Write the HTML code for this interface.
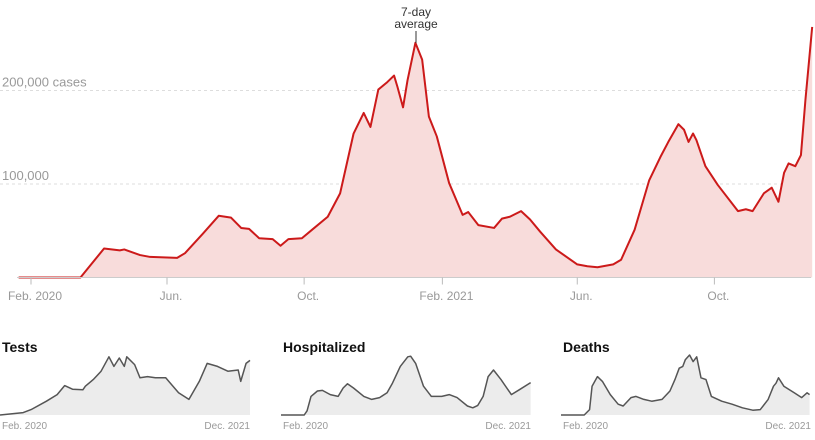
<!DOCTYPE html>
<html><head><meta charset="utf-8"><style>
html,body{margin:0;padding:0;background:#fff;}
body{width:815px;height:435px;overflow:hidden;font-family:"Liberation Sans",sans-serif;}
svg text{font-family:"Liberation Sans",sans-serif;}
</style></head><body>
<svg id="chart" width="815" height="435" viewBox="0 0 815 435" xmlns="http://www.w3.org/2000/svg"></svg>
<script>
// Main series: days since 2020-02-01, cases in thousands (7-day avg)
const caseDays = [-11,44,65,79,83,97,106,130,137,153,167,178,187,194,203,215,222,229,241,250,264,275,287,296,302,309,317,323,326,331,335,342,348,354,361,372,384,389,398,412,419,426,436,444,453,467,486,495,504,518,525,537,550,560,567,576,581,585,589,592,600,611,629,636,642,652,659,665,670,674,680,685,689,695];
const caseValues = [0,0,31,29,30,24,22,21,26,47,66,64,53,52,42,41,34,41,42,51,65,90,154,176,161,201,209,216,204,182,211,251,233,172,151,101,67,70,56,53,63,65,71,62,49,30,14,12,11,14,19,51,104,129,145,164,158,145,154,147,119,99,71,73,71,90,96,81,112,122,119,131,190,268];
const yTicks = [100,200];
const yTickLabels = ["100,000","200,000 cases"];
const xTickDays = [0,121,243,366,486,608];
const xTickLabels = ["Feb. 2020","Jun.","Oct.","Feb. 2021","Jun.","Oct."];
// small multiples (days since start, relative 0-100 values)
const testDays = [0,65,87,130,160,181,203,232,239,261,283,305,319,334,348,355,377,392,413,435,464,500,529,558,580,609,638,667,674,689,700];
const testValues = [0,4,9,23,34,49,43,42,48,59,73,97,81,95,81,97,84,62,64,62,62,37,26,56,86,81,73,75,56,86,91];
const hospDays = [0,65,73,84,102,116,138,160,174,186,203,232,254,276,297,312,334,355,363,377,399,421,450,471,493,522,537,551,566,580,595,616,645,667,699];
const hospValues = [0,0,7,31,40,41,34,31,45,52,45,31,26,29,37,53,81,97,98,86,48,31,31,34,29,15,12,16,31,64,75,59,34,42,54];
const deathDays = [0,65,80,87,102,116,138,160,174,196,210,232,254,283,305,319,331,341,348,360,370,380,392,406,421,450,479,508,537,558,580,595,602,609,624,653,674,689,696];
const deathValues = [0,0,9,48,64,56,34,18,15,29,31,26,23,26,40,59,78,81,92,100,89,97,62,59,31,23,18,12,8,9,26,48,53,62,48,37,29,37,34];

const NS="http://www.w3.org/2000/svg";
const svg=document.getElementById('chart');
function mk(tag,attrs,parent){const e=document.createElementNS(NS,tag);for(const k in attrs)e.setAttribute(k,attrs[k]);(parent||svg).appendChild(e);return e;}

// main axes
const x=d=>31+d*1.124;
const y=v=>277.5-v*0.935;
const base=y(0);

yTicks.forEach((t,i)=>{
  const g=mk('line',{x1:0,x2:811,y1:y(t),y2:y(t),stroke:'#ddd','stroke-dasharray':'3,3'});
  
  
  const l=mk('text',{x:2,y:y(t)-4,fill:'#999','font-size':13});
  l.textContent=yTickLabels[i];
  
  
});

let area='M'+x(caseDays[0])+','+base;
let line='';
caseDays.forEach((d,i)=>{area+=' L'+x(d)+','+y(caseValues[i]);line+=(i?' L':'M')+x(d)+','+y(caseValues[i]);});
area+=' L'+x(caseDays[caseDays.length-1])+','+base+' Z';
const a=mk('path',{d:area,fill:'#f8dcdb'});


const ln=mk('path',{d:line,fill:'none',stroke:'#cc1a1a','stroke-width':2,'stroke-linejoin':'round'});



const bl=mk('line',{x1:17,x2:811,y1:base,y2:base,stroke:'#ccc'});


xTickDays.forEach((d,i)=>{
  const t=mk('line',{x1:x(d),x2:x(d),y1:base,y2:base+7,stroke:'#bbb'});
  
  
  const l=mk('text',{x:x(d)+4,y:300,fill:'#999','font-size':12,'text-anchor':'middle'});
  l.textContent=xTickLabels[i];
  
  
});

const ann=mk('g',{});


const t1=mk('text',{x:416,y:16,'font-size':12,fill:'#333','text-anchor':'middle'},ann);t1.textContent='7-day';
const t2=mk('text',{x:416,y:28,'font-size':12,fill:'#333','text-anchor':'middle'},ann);t2.textContent='average';
mk('line',{x1:416,x2:416,y1:31,y2:43,stroke:'#333'},ann);

// small multiples
function small(x0,title,days,vals,name){
  const g=mk('g',{});
  
  
  const w=250,top=355,bot=415;
  const sx=d=>x0+d*w/700, sy=v=>bot-v*(bot-top)/100;
  const tt=mk('text',{x:x0+2,y:352,'font-size':14,'font-weight':'bold',fill:'#111'},g);
  tt.textContent=title;
  let p='M'+sx(days[0])+','+bot,l='';
  days.forEach((d,i)=>{p+=' L'+sx(d)+','+sy(vals[i]);l+=(i?' L':'M')+sx(d)+','+sy(vals[i]);});
  p+=' L'+sx(days[days.length-1])+','+bot+' Z';
  mk('path',{d:p,fill:'#ececec'},g);
  mk('path',{d:l,fill:'none',stroke:'#555','stroke-width':1.5,'stroke-linejoin':'round'},g);
  const a=mk('text',{x:x0+2,y:429,'font-size':10,fill:'#999'},g);a.textContent='Feb. 2020';
  const b=mk('text',{x:x0+w,y:429,'font-size':10,fill:'#999','text-anchor':'end'},g);b.textContent='Dec. 2021';
}
small(0,'Tests',testDays,testValues,'tests');
small(281,'Hospitalized',hospDays,hospValues,'hospitalized');
small(561,'Deaths',deathDays,deathValues,'deaths');
</script>
</body></html>
